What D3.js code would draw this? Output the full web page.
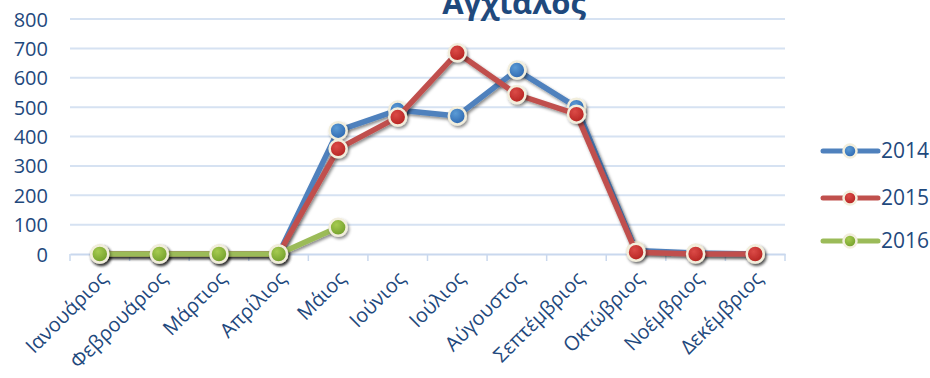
<!DOCTYPE html>
<html><head><meta charset="utf-8">
<script src="https://cdn.jsdelivr.net/npm/d3@7"></script>
<style>body{margin:0;background:#fff}svg{display:block}</style>
</head><body>
<svg id="c" width="930" height="378"></svg>
<script>
const title = "Αγχίαλος";
const months = ["Ιανουάριος","Φεβρουάριος","Μάρτιος","Απρίλιος","Μάιος","Ιούνιος","Ιούλιος","Αύγουστος","Σεπτέμβριος","Οκτώβριος","Νοέμβριος","Δεκέμβριος"];
const yTicks = [0,100,200,300,400,500,600,700,800];
const seriesNames = ["2014","2015","2016"];
const values2014 = [0,0,0,0,420,490,470,626,500,12,3,0];
const values2015 = [0,0,0,0,358,466,685,543,476,6,0,0];
const values2016 = [0,0,0,0,91];
const lineColors = ["#4F81BD","#C0504D","#9BBB59"];
const markerColors = [["#5B9BD5","#2A64AE"],["#DB4B47","#B2201E"],["#A6CB50","#6E9B28"]];

const svg = d3.select("#c");
const font = "'Open Sans', sans-serif";
const txt = "#1F497D";
const defs = svg.append("defs");
const f = defs.append("filter").attr("id","sh").attr("x","-50%").attr("y","-50%").attr("width","200%").attr("height","200%");
f.append("feDropShadow").attr("dx",1.5).attr("dy",2).attr("stdDeviation",1.5).attr("flood-color","#000").attr("flood-opacity",0.45);
markerColors.forEach((c,i)=>{
  const g = defs.append("radialGradient").attr("id","g"+i).attr("cx","40%").attr("cy","35%").attr("r","70%");
  g.append("stop").attr("offset","0%").attr("stop-color",c[0]);
  g.append("stop").attr("offset","100%").attr("stop-color",c[1]);
});

const x = d3.scaleBand().domain(months).range([70,785]);
const y = d3.scaleLinear().domain([0,800]).range([254,19]);
const cx = m => x(m) + x.bandwidth()/2;

// gridlines
svg.append("g").selectAll("line").data(yTicks.slice(1)).join("line")
  .attr("x1",70).attr("x2",785).attr("y1",d=>y(d)).attr("y2",d=>y(d))
  .attr("stroke","#D6E2F2").attr("stroke-width",2);

// x axis
const xAxis = d3.axisBottom(x).tickSize(0).tickFormat("");
const gx = svg.append("g").attr("transform","translate(0,254)").call(xAxis);
gx.select(".domain").attr("stroke","#C9D8EE").attr("stroke-width",2);
const bounds = months.map(m=>x(m)).concat([785]);
svg.append("g").selectAll("line").data(bounds).join("line")
  .attr("x1",d=>d).attr("x2",d=>d).attr("y1",254).attr("y2",261)
  .attr("stroke","#C9D8EE").attr("stroke-width",1.5);
svg.append("g").selectAll("text").data(months).join("text")
  .attr("transform",m=>`translate(${cx(m)+4},${275}) rotate(-45)`)
  .attr("text-anchor","end").attr("dy","0.35em")
  .attr("font-family",font).attr("font-size",20).attr("fill",txt).text(d=>d);

// y axis labels
const yAxis = d3.axisLeft(y).tickValues(yTicks).tickSize(0);
const gy = svg.append("g").attr("transform","translate(48,0)").call(yAxis);
gy.select(".domain").remove();
gy.selectAll("text").attr("font-family",font).attr("font-size",20).attr("fill",txt).attr("x",0).attr("dy","0.35em");

// title
svg.append("text").attr("x",514).attr("y",14).attr("text-anchor","middle")
  .attr("font-family",font).attr("font-weight","bold").attr("font-size",31).attr("fill",txt).text(title);

const data = [values2014, values2015, values2016];
const line = d3.line().x((d,i)=>cx(months[i])).y(d=>y(d));
data.forEach((vals,si)=>{
  const g = svg.append("g");
  g.append("path").datum(vals).attr("d",line).attr("fill","none")
    .attr("stroke",lineColors[si]).attr("stroke-width",5.5).attr("stroke-linejoin","round").attr("filter","url(#sh)");
  g.selectAll("circle").data(vals).join("circle")
    .attr("cx",(d,i)=>cx(months[i])).attr("cy",d=>y(d)).attr("r",8.5)
    .attr("fill",`url(#g${si})`).attr("stroke","#F2EEDC").attr("stroke-width",2.5).attr("filter","url(#sh)");
});

// legend
const ly = [151,198,241];
seriesNames.forEach((n,i)=>{
  const g = svg.append("g");
  g.append("line").attr("x1",823).attr("x2",878).attr("y1",ly[i]).attr("y2",ly[i])
    .attr("stroke",lineColors[i]).attr("stroke-width",5).attr("stroke-linecap","round");
  g.append("circle").attr("cx",850).attr("cy",ly[i]).attr("r",6.5)
    .attr("fill",`url(#g${i})`).attr("stroke","#F2EEDC").attr("stroke-width",2.5);
  g.append("text").attr("x",881).attr("y",ly[i]).attr("dy","0.35em")
    .attr("font-family",font).attr("font-size",21).attr("fill",txt).text(n);
});
</script>
</body></html>
